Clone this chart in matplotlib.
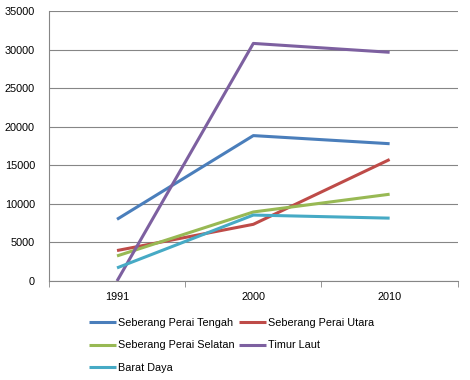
import matplotlib.pyplot as plt
import numpy as np

# data
years = ['1991', '2000', '2010']
tengah = [8000, 18850, 17800]
utara = [3950, 7350, 15750]
selatan = [3250, 8950, 11250]
timur = [0, 30800, 29650]
barat = [1700, 8550, 8150]

names = ['Seberang Perai Tengah', 'Seberang Perai Utara', 'Seberang Perai Selatan',
         'Timur Laut', 'Barat Daya']
colors = ['#4a7ebb', '#be4b48', '#98b954', '#7d60a0', '#46aac5']
series = [tengah, utara, selatan, timur, barat]

plt.rcParams['font.family'] = ['Liberation Sans', 'DejaVu Sans']

fig = plt.figure(figsize=(4.7, 3.8), dpi=100)
ax = fig.add_axes([0.104, 0.2605, 0.87, 0.7105])

x = np.arange(len(years)) + 0.5
lines = []
for s, n, c in zip(series, names, colors):
    ln, = ax.plot(x, s, color=c, linewidth=2.2, label=n, solid_capstyle='butt')
    lines.append(ln)

ax.set_xlim(0, 3)
ax.set_ylim(0, 35000)
ax.set_yticks(np.arange(0, 35001, 5000))
ax.set_xticks(x)
ax.set_xticklabels(years)
ax.set_xticks([0, 1, 2, 3], minor=True)
ax.tick_params(axis='x', which='major', length=0, pad=8, labelsize=7.8)
ax.tick_params(axis='x', which='minor', length=4, color='#868686')
ax.tick_params(axis='y', length=0, pad=10, labelsize=7.8)
ax.grid(axis='y', color='#868686', linewidth=0.8)
ax.set_axisbelow(True)
for sp in ['top', 'right']:
    ax.spines[sp].set_visible(False)
for sp in ['left', 'bottom']:
    ax.spines[sp].set_color('#868686')
    ax.spines[sp].set_linewidth(0.8)

# legend filled row by row like the original
order = [0, 2, 4, 1, 3]
fig.legend([lines[i] for i in order], [names[i] for i in order],
           loc='upper left', bbox_to_anchor=(0.18, 0.175), ncol=2, frameon=False,
           fontsize=7.8, handlelength=2.5, handletextpad=0.2, columnspacing=0.4,
           labelspacing=1.15, borderaxespad=0)

fig.savefig('out.png', dpi=100)
